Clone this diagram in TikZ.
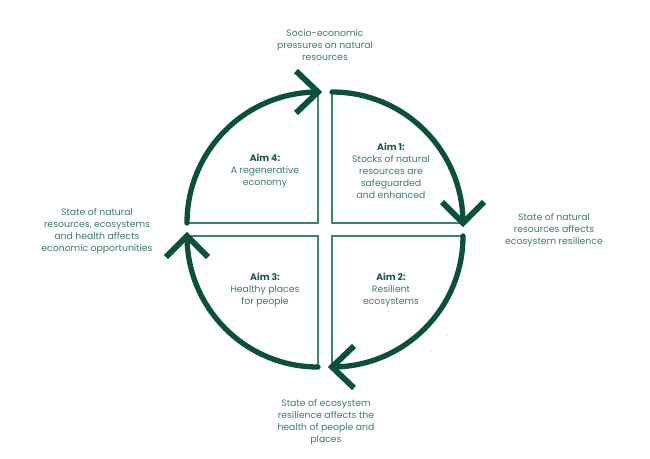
\documentclass[tikz,border=0pt]{standalone}
\usepackage{fontspec}
\usetikzlibrary{calc}
\setmainfont{Poppins}
\definecolor{darkg}{HTML}{0B4F3C}
\definecolor{thing}{HTML}{3A8370}
\definecolor{txtg}{HTML}{3E7C6B}
\definecolor{aimg}{HTML}{1E5646}
\tikzset{
  arcline/.style={draw=darkg, line width=5.3pt, line cap=round},
  chev/.style={draw=darkg, line width=5.8pt, line join=miter, line cap=butt},
  frame/.style={draw=thing, line width=1.3pt},
  lbl/.style={align=center, text=txtg, inner sep=0pt, font=\fontsize{9.3}{12}\selectfont},
  aim/.style={align=center, text=txtg, inner sep=0pt, font=\fontsize{9.3}{12}\selectfont}
}
\begin{document}
\begin{tikzpicture}[x=1pt,y=-1pt]
\useasboundingbox[fill=white] (0,0) rectangle (650,458);
% corners
\coordinate (cTR) at (332,223);
\coordinate (cTL) at (318,223);
\coordinate (cBL) at (318,236);
\coordinate (cBR) at (332,236);
\def\R{131}
% arc end points
\coordinate (trS) at (332,92);
\coordinate (trE) at (463,223);
\coordinate (tlS) at (187,223);
\coordinate (tlE) at (318,92);
\coordinate (blS) at (318,367);
\coordinate (blE) at (187,236);
\coordinate (brS) at (463,236);
\coordinate (brE) at (332,367);
% thin frames
\draw[frame] (trS) -- (cTR) -- (trE);
\draw[frame] (tlE) -- (cTL) -- (tlS);
\draw[frame] (blS) -- (cBL) -- (blE);
\draw[frame] (brE) -- (cBR) -- (brS);
% thick arcs
\draw[arcline] (trS) arc[start angle=-90, end angle=0, radius=\R];
\draw[arcline] (tlS) arc[start angle=180, end angle=270, radius=\R];
\draw[arcline] (blS) arc[start angle=90, end angle=180, radius=\R];
\draw[arcline] (brS) arc[start angle=0, end angle=90, radius=\R];
% chevrons
\draw[chev] ($(trE)+(-21,-21)$) -- (trE) -- ($(trE)+(21,-21)$);
\draw[chev] ($(tlE)+(-22,-21)$) -- (tlE) -- ($(tlE)+(-22,21)$);
\draw[chev] ($(blE)+(-21,21)$) -- (blE) -- ($(blE)+(21,21)$);
\draw[chev] ($(brE)+(22,-21)$) -- (brE) -- ($(brE)+(22,21)$);
% outer labels
\node[lbl] (ltop) at (325,45) {Socio-economic\\pressures on natural\\resources};
\node[lbl] (lright) at (554,230.5) {State of natural\\resources affects\\ecosystem resilience};
\node[lbl] (lleft) at (97,231) {State of natural\\resources, ecosystems\\and health affects\\economic opportunities};
\node[lbl] (lbot) at (326,422) {State of ecosystem\\resilience affects the\\health of people and\\places};
% aims
\node[aim] (a1) at (391,171) {\textcolor{aimg}{\textbf{Aim 1:}}\\Stocks of natural\\resources are\\safeguarded\\and enhanced};
\node[aim] (a4) at (265,171) {\textcolor{aimg}{\textbf{Aim 4:}}\\A regenerative\\economy};
\node[aim] (a3) at (265,290) {\textcolor{aimg}{\textbf{Aim 3:}}\\Healthy places\\for people};
\node[aim] (a2) at (391,289.5) {\textcolor{aimg}{\textbf{Aim 2:}}\\Resilient\\ecosystems};
\end{tikzpicture}
\end{document}
